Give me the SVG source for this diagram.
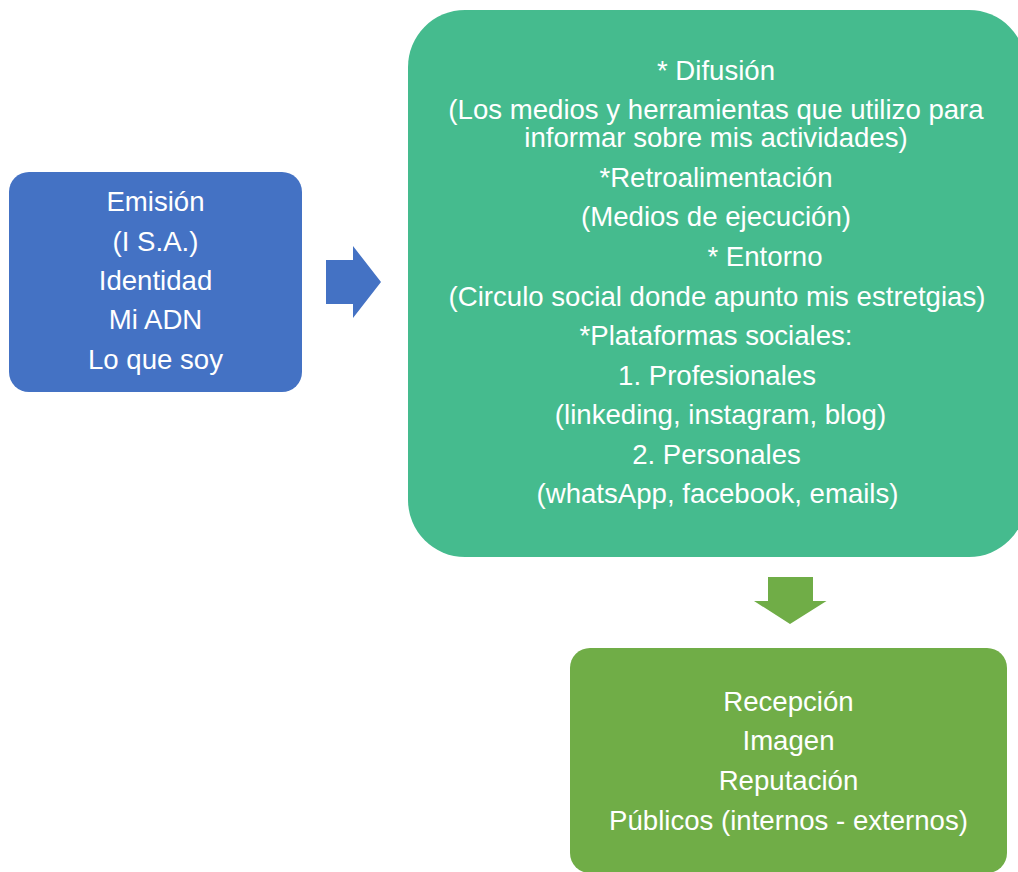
<svg xmlns="http://www.w3.org/2000/svg" width="1018" height="872" viewBox="0 0 1018 872">
<style>
text{font-family:"Liberation Sans",Arial,sans-serif;font-size:27.6px;fill:#fff;text-anchor:middle}
.blue{fill:#4472C4}
.teal{fill:#45BB8E}
.green{fill:#70AD47}
</style>
<rect width="1018" height="872" fill="#fff"/>
<g id="connectors">
<polygon class="blue" points="326,260 353,260 353,246 381,282 353,318 353,304 326,304"/>
<polygon class="green" points="768,577 813,577 813,601 826.5,601 790,624 754,601 768,601"/>
</g>
<g id="emision">
<rect class="blue" x="9" y="172" width="293" height="220" rx="20"/>
<text x="155.5" y="211">Emisión</text>
<text x="155.5" y="250.5">(I S.A.)</text>
<text x="155.5" y="290">Identidad</text>
<text x="155.5" y="329">Mi ADN</text>
<text x="155.5" y="368.5">Lo que soy</text>
</g>
<g id="difusion">
<rect class="teal" x="408" y="10" width="618" height="547" rx="57"/>
<text x="716" y="80">* Difusión</text>
<text x="716" y="119">(Los medios y herramientas que utilizo para</text>
<text x="716" y="147">informar sobre mis actividades)</text>
<text x="716" y="187">*Retroalimentación</text>
<text x="716" y="226">(Medios de ejecución)</text>
<text x="765" y="266">* Entorno</text>
<text x="717" y="306">(Circulo social donde apunto mis estretgias)</text>
<text x="716" y="345">*Plataformas sociales:</text>
<text x="717" y="385">1. Profesionales</text>
<text x="720.5" y="424">(linkeding, instagram, blog)</text>
<text x="716.5" y="464">2. Personales</text>
<text x="717.5" y="503">(whatsApp, facebook, emails)</text>
</g>
<g id="recepcion">
<rect class="green" x="570" y="648" width="437" height="225" rx="20"/>
<text x="788.5" y="711">Recepción</text>
<text x="788.5" y="750">Imagen</text>
<text x="788.5" y="790">Reputación</text>
<text x="788.5" y="829.5">Públicos (internos - externos)</text>
</g>
</svg>
